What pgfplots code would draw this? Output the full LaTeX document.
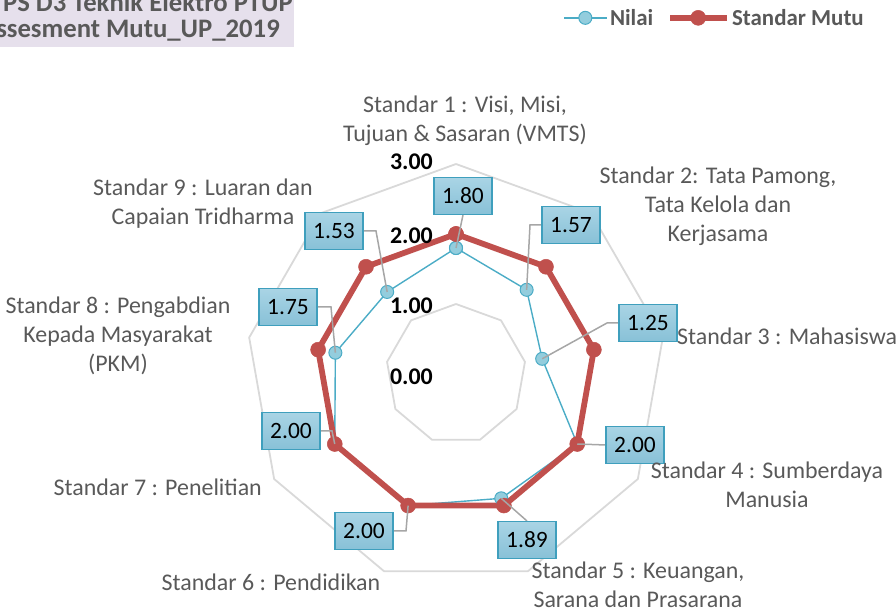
\documentclass[border=0pt]{standalone}
\usepackage{fontspec}
\setmainfont{Carlito}
\usepackage{pgfplots}
\usepackage{pgfplotstable}
\pgfplotsset{compat=1.18}
\usepgfplotslibrary{polar}
\definecolor{GridGray}{HTML}{D9D9D9}
\definecolor{NilaiLine}{HTML}{4BACC6}
\definecolor{NilaiFill}{HTML}{93CDDD}
\definecolor{MutuRed}{HTML}{C0504D}
\definecolor{LabelGray}{HTML}{595959}
\definecolor{LeaderGray}{HTML}{A6A6A6}
\definecolor{BoxTop}{HTML}{A9D4E5}
\definecolor{BoxBot}{HTML}{88C1D7}
\definecolor{BoxEdge}{HTML}{3F9FBD}
\definecolor{TitleBg}{HTML}{E6E0EC}

\pgfplotsset{
  nilai legend/.style={legend image code/.code={\draw[mark repeat=2,mark phase=2,##1] plot coordinates {(0bp,0bp)(21bp,0bp)(43bp,0bp)};}},
  mutu legend/.style={legend image code/.code={\draw[mark repeat=2,mark phase=2,##1] plot coordinates {(0bp,0bp)(28bp,0bp)(57bp,0bp)};}}}

% angle of each standard (clockwise from top), Nilai, Standar Mutu
\pgfplotstableread{
ang  nilai mutu
90   1.80  2.00
50   1.57  2.00
10   1.25  2.00
-30  2.00  2.00
-70  1.89  2.00
-110 2.00  2.00
-150 2.00  2.00
170  1.75  2.00
130  1.53  2.00
90   1.80  2.00
}\radar

\begin{document}
\begin{tikzpicture}[
  lbl/.style={align=center,text=LabelGray,font=\fontsize{24}{29}\selectfont,inner sep=0pt},
  tck/.style={anchor=east,font=\bfseries\fontsize{24}{28}\selectfont,inner sep=0pt},
  box/.style={draw=BoxEdge,line width=1.1bp,top color=BoxTop,bottom color=BoxBot,
    minimum width=58bp,minimum height=37bp,inner sep=0pt,font=\fontsize{23.5}{27}\selectfont},
  lead/.style={draw=LeaderGray,line width=1.5bp}]
\path[use as bounding box,clip] (0,0) rectangle (896bp,610bp);

\begin{polaraxis}[at={(456bp,236bp)},anchor=center,scale only axis,
  width=420bp,height=420bp,ymin=0,ymax=3,hide axis,clip=false,
  legend columns=2,
  legend style={at={(1.476,1.348)},anchor=east,draw=none,fill=none,
    font=\bfseries\fontsize{23}{27}\selectfont,text=LabelGray,inner sep=0pt,
    /tikz/every even column/.append style={column sep=12bp}},
  ]
% grid rings
\addplot[GridGray,line width=1.8bp,forget plot] coordinates {(90,1)(50,1)(10,1)(-30,1)(-70,1)(-110,1)(-150,1)(170,1)(130,1)(90,1)};
\addplot[GridGray,line width=1.8bp,forget plot] coordinates {(90,2)(50,2)(10,2)(-30,2)(-70,2)(-110,2)(-150,2)(170,2)(130,2)(90,2)};
\addplot[GridGray,line width=1.8bp,forget plot] coordinates {(90,3)(50,3)(10,3)(-30,3)(-70,3)(-110,3)(-150,3)(170,3)(130,3)(90,3)};
% series
\addplot[NilaiLine,line width=1.4bp,mark=*,mark size=6.5bp,
  mark options={fill=NilaiFill,draw=NilaiLine,line width=1bp},nilai legend]
  table[x=ang,y=nilai] {\radar};
\addlegendentry{Nilai}
\addplot[MutuRed,line width=5.8bp,mark=*,mark size=7.5bp,
  mark options={fill=MutuRed,draw=MutuRed,line width=0.5bp},mutu legend]
  table[x=ang,y=mutu] {\radar};
\addlegendentry{Standar Mutu}
\coordinate (n1) at (axis cs:90,1.80);
\coordinate (n2) at (axis cs:50,1.57);
\coordinate (n3) at (axis cs:10,1.25);
\coordinate (n4) at (axis cs:-30,2.00);
\coordinate (n5) at (axis cs:-70,1.89);
\coordinate (n6) at (axis cs:-110,2.00);
\coordinate (n7) at (axis cs:-150,2.00);
\coordinate (n8) at (axis cs:170,1.75);
\coordinate (n9) at (axis cs:130,1.53);
\end{polaraxis}

\begin{scope}[shift={(0,610bp)},x=1bp,y=-1bp]
% title box
\fill[TitleBg] (0,0) rectangle (294,47);
\node[anchor=base east,font=\bfseries\fontsize{26.8}{31}\selectfont,text=LabelGray,inner sep=0pt] at (293,12) {PS D3 Teknik Elektro PTUP};
\node[anchor=base east,font=\bfseries\fontsize{26.8}{31}\selectfont,text=LabelGray,inner sep=0pt] at (280,38) {Assesment Mutu\_UP\_2019};

% radial tick labels
\node[tck] at (433,162) {3.00};
\node[tck] at (433,236) {2.00};
\node[tck] at (433,306) {1.00};
\node[tck] at (433,377) {0.00};

% leader lines
\draw[lead] (463,215) -- (n1);
\draw[lead] (542,225) -- (530,225) -- (n2);
\draw[lead] (618,323) -- (607,323) -- (n3);
\draw[lead] (606,445) -- (n4);
\draw[lead] (527,521) -- (n5);
\draw[lead] (393,531) -- (406,531) -- (n6);
\draw[lead] (320,431) -- (332,431) -- (n7);
\draw[lead] (318,307) -- (331,307) -- (n8);
\draw[lead] (363,231) -- (376,231) -- (n9);

% data labels
\node[box] at (463,196) {1.80};
\node[box] at (571,225) {1.57};
\node[box] at (648,323) {1.25};
\node[box] at (635,445) {2.00};
\node[box] at (527,540) {1.89};
\node[box] at (364,531) {2.00};
\node[box] at (291,431) {2.00};
\node[box] at (288,307) {1.75};
\node[box] at (334,231) {1.53};

% category labels
\node[lbl] at (465,121) {Standar 1 : Visi, Misi,\\Tujuan \& Sasaran (VMTS)};
\node[lbl] at (718,206) {Standar 2: Tata Pamong,\\Tata Kelola dan\\Kerjasama};
\node[lbl,anchor=west] at (677,336) {Standar 3 : Mahasiswa};
\node[lbl] at (767,485) {Standar 4 : Sumberdaya\\Manusia};
\node[lbl] at (638,585) {Standar 5 : Keuangan,\\Sarana dan Prasarana};
\node[lbl] at (271,582) {Standar 6 : Pendidikan};
\node[lbl,anchor=east] at (262,487) {Standar 7 : Penelitian};
\node[lbl] at (118,336) {Standar 8 : Pengabdian\\Kepada Masyarakat\\(PKM)};
\node[lbl] at (203,204) {Standar 9 : Luaran dan\\Capaian Tridharma};
\end{scope}
\end{tikzpicture}
\end{document}
